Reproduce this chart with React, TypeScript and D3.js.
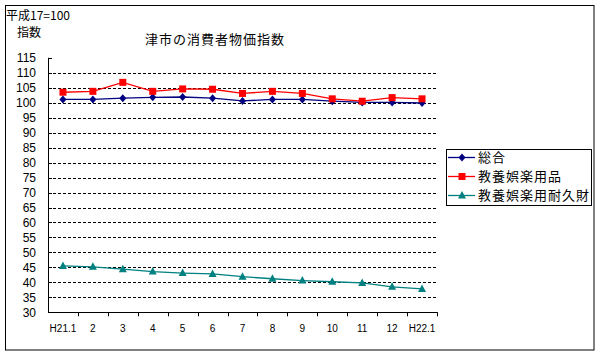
import React from "react";
import * as d3 from "d3";

const categories = ["H21.1", "2", "3", "4", "5", "6", "7", "8", "9", "10", "11", "12", "H22.1"];
const sogo = [101.1, 101.1, 101.5, 101.8, 101.9, 101.5, 100.6, 101.1, 101.1, 100.5, 100.1, 100.1, 99.9];
const kyoyoYohin = [103.5, 103.8, 106.8, 103.8, 104.6, 104.5, 103.1, 103.8, 103.1, 101.3, 100.5, 101.7, 101.3];
const kyoyoTaikyu = [45.5, 45.2, 44.4, 43.6, 43.1, 42.8, 41.9, 41.2, 40.6, 40.2, 39.8, 38.5, 37.8];
const yTicks = [30, 35, 40, 45, 50, 55, 60, 65, 70, 75, 80, 85, 90, 95, 100, 105, 110, 115];
const seriesNames = ["総合", "教養娯楽用品", "教養娯楽用耐久財"];
const seriesColors = ["#000080", "#FF0000", "#008080"];
const seriesShapes = ["diamond", "square", "triangle"];

const JP = "'Noto Sans CJK JP', 'Noto Sans', sans-serif";
const NUM = "'Liberation Sans', Arial, sans-serif";

function Marker({ shape, x, y, color }: { shape: string; x: number; y: number; color: string }) {
  if (shape === "diamond") {
    return <path d={`M${x},${y - 4}L${x + 3.5},${y}L${x},${y + 4}L${x - 3.5},${y}Z`} fill={color} />;
  }
  if (shape === "square") {
    return <rect x={x - 3.5} y={y - 3.5} width={7} height={7} fill={color} />;
  }
  return <path d={`M${x},${y - 4.5}L${x + 4},${y + 3}L${x - 4},${y + 3}Z`} fill={color} />;
}

export default function App() {
  const left = 48;
  const right = 437;
  const top = 57.8;
  const bottom = 312.3;

  const x = d3.scaleBand<string>().domain(categories).range([left, right]).padding(0);
  const y = d3.scaleLinear().domain([30, 115]).range([bottom, top]);
  const cx = (c: string) => (x(c) as number) + x.bandwidth() / 2;

  const series = [sogo, kyoyoYohin, kyoyoTaikyu];
  const line = d3
    .line<number>()
    .x((_, i) => cx(categories[i]))
    .y((d) => y(d));

  const boundaries = categories.map((c) => (x(c) as number) + x.bandwidth());

  return (
    <svg width={600} height={355} style={{ position: "absolute", left: 0, top: 0, background: "#fff" }}>
      <rect x={5.5} y={5.5} width={588.5} height={344.5} fill="#fff" stroke="#000" strokeWidth={1} />

      <text x={6} y={20} fontFamily={JP} fontSize={12} fill="#000">平成17=100</text>
      <text x={17} y={37} fontFamily={JP} fontSize={12} fill="#000">指数</text>
      <text x={215} y={44} textAnchor="middle" fontFamily={JP} fontSize={13} letterSpacing={1} fill="#000">
        津市の消費者物価指数
      </text>

      {/* gridlines */}
      {yTicks.filter((t) => t > 30 && t < 115).map((t) => (
        <line key={"g" + t} x1={left} x2={right} y1={Math.round(y(t)) + 0.5} y2={Math.round(y(t)) + 0.5}
          stroke="#000" strokeWidth={1} strokeDasharray="3,2" />
      ))}
      {/* y tick marks */}
      {yTicks.map((t) => (
        <line key={"yt" + t} x1={left} x2={left + 4} y1={Math.round(y(t)) + 0.5} y2={Math.round(y(t)) + 0.5}
          stroke="#000" strokeWidth={1} />
      ))}
      {/* y labels */}
      {yTicks.map((t) => (
        <text key={"yl" + t} x={36} y={y(t)} dy="0.36em" textAnchor="end" fontFamily={NUM} fontSize={12} fill="#000">
          {t}
        </text>
      ))}
      {/* axes */}
      <line x1={left + 0.5} x2={left + 0.5} y1={top} y2={bottom} stroke="#000" strokeWidth={1} />
      <line x1={left} x2={right + 0.5} y1={Math.round(bottom) + 0.5} y2={Math.round(bottom) + 0.5} stroke="#000" strokeWidth={1} />
      {boundaries.map((b, i) => (
        <line key={"xt" + i} x1={Math.round(b) + 0.5} x2={Math.round(b) + 0.5} y1={bottom} y2={bottom + 4} stroke="#000" strokeWidth={1} />
      ))}
      {categories.map((c) => (
        <text key={"xl" + c} x={cx(c)} y={332} textAnchor="middle" fontFamily={NUM} fontSize={10} fill="#000">
          {c}
        </text>
      ))}

      {/* series */}
      {series.map((s, si) => (
        <g key={"s" + si}>
          <path d={line(s) as string} fill="none" stroke={seriesColors[si]} strokeWidth={1.3} />
          {s.map((v, i) => (
            <Marker key={i} shape={seriesShapes[si]} x={cx(categories[i])} y={y(v)} color={seriesColors[si]} />
          ))}
        </g>
      ))}

      {/* legend */}
      <rect x={446.5} y={149.5} width={145} height={56} fill="#fff" stroke="#000" strokeWidth={1} />
      {seriesNames.map((n, i) => {
        const ly = 157.5 + i * 19;
        return (
          <g key={"lg" + i}>
            <line x1={448} x2={475} y1={ly} y2={ly} stroke={seriesColors[i]} strokeWidth={1.3} />
            <Marker shape={seriesShapes[i]} x={462} y={ly} color={seriesColors[i]} />
            <text x={478} y={ly} dy="0.36em" fontFamily={JP} fontSize={13} letterSpacing={1} fill="#000">
              {n}
            </text>
          </g>
        );
      })}
    </svg>
  );
}
